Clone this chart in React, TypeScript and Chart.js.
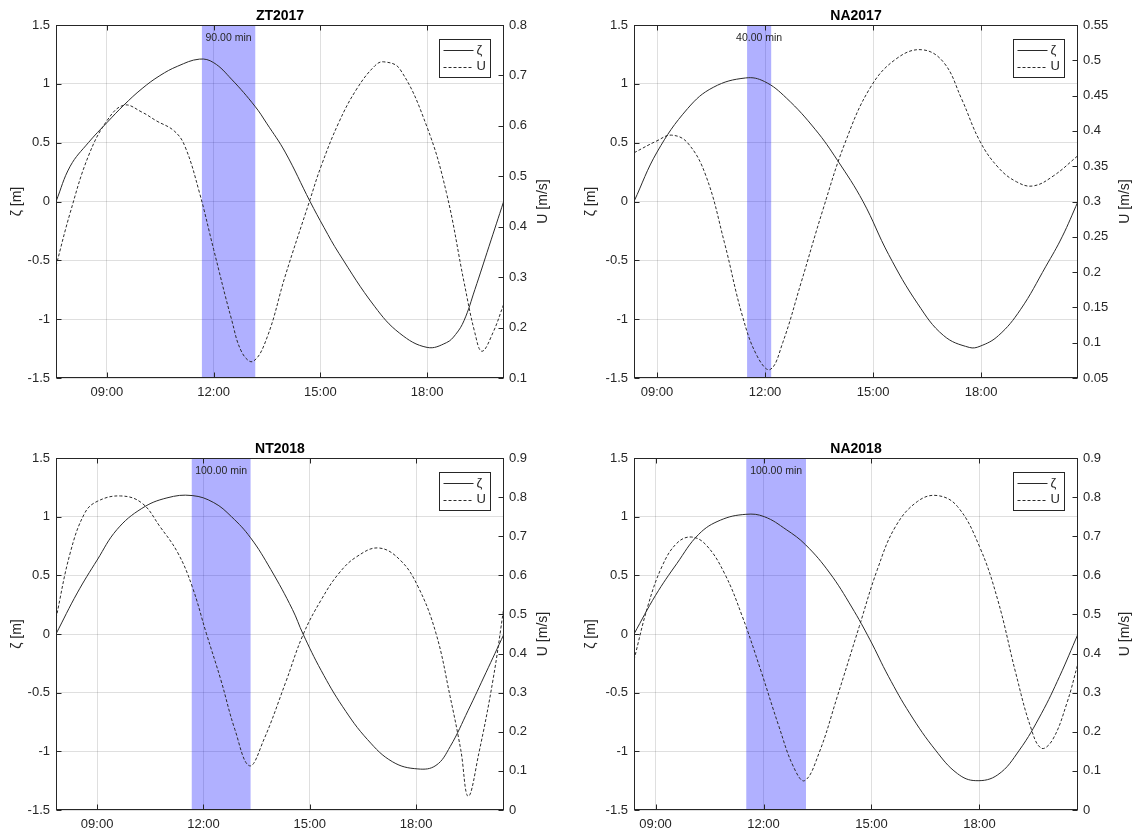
import React, { useEffect, useRef } from "react";
import { Chart, registerables } from "chart.js";

Chart.register(...registerables);

// ---------- shared ticks / labels ----------
const timeTicks = [9, 12, 15, 18];
const zetaAxis = [-1.5, 1.5, 0.5];
const panelTitles = ["ZT2017", "NA2017", "NT2018", "NA2018"];

// ---------- ZT2017 ----------
const zt17Range = [7.57, 20.16];
const zt17Window = [11.67, 13.17];
const zt17WindowLabel = "90.00 min";
const zt17UAxis = [0.1, 0.8, 0.1];
const zt17ZetaT = [7.57, 7.97, 8.48, 9.0, 9.48, 9.99, 10.49, 10.99, 11.6, 12.0, 12.5, 13.16, 13.5, 14.01, 14.71, 15.1, 15.52, 16.52, 17.23, 18.0, 18.54, 18.8, 19.04, 19.34, 19.74, 20.15];
const zt17Zeta = [0.0, 0.3, 0.5, 0.67, 0.82, 0.96, 1.07, 1.15, 1.21, 1.18, 1.04, 0.81, 0.66, 0.42, 0.0, -0.22, -0.44, -0.89, -1.12, -1.24, -1.2, -1.13, -1.01, -0.75, -0.38, 0.0];
const zt17UT = [7.57, 7.97, 8.48, 9.0, 9.48, 9.99, 10.39, 10.89, 11.19, 11.6, 12.0, 12.5, 12.8, 13.11, 13.51, 14.01, 14.71, 15.02, 15.52, 16.02, 16.53, 16.78, 17.23, 18.0, 18.54, 19.04, 19.34, 19.54, 19.85, 20.15];
const zt17U = [0.322, 0.428, 0.54, 0.61, 0.641, 0.627, 0.61, 0.59, 0.56, 0.468, 0.355, 0.217, 0.15, 0.133, 0.182, 0.302, 0.454, 0.52, 0.607, 0.673, 0.719, 0.727, 0.713, 0.597, 0.468, 0.289, 0.19, 0.153, 0.19, 0.246];

// ---------- NA2017 ----------
const na17Range = [8.36, 20.69];
const na17Window = [11.5, 12.17];
const na17WindowLabel = "40.00 min";
const na17UAxis = [0.05, 0.55, 0.05];
const na17ZetaT = [8.36, 9.0, 9.85, 10.56, 11.46, 11.98, 12.59, 13.4, 14.01, 14.72, 15.43, 16.24, 16.96, 17.67, 17.97, 18.48, 19.09, 19.8, 20.25, 20.69];
const na17Zeta = [0.0, 0.42, 0.79, 0.97, 1.05, 1.02, 0.88, 0.61, 0.35, 0.0, -0.45, -0.87, -1.14, -1.24, -1.23, -1.14, -0.92, -0.55, -0.3, 0.0];
const na17UT = [8.36, 9.0, 9.4, 9.85, 10.36, 10.87, 11.37, 11.78, 12.14, 12.49, 13.0, 13.61, 14.22, 14.93, 15.64, 16.35, 16.96, 17.46, 17.97, 18.48, 18.98, 19.44, 20.0, 20.69];
const na17U = [0.369, 0.386, 0.394, 0.383, 0.336, 0.242, 0.138, 0.081, 0.062, 0.1, 0.185, 0.289, 0.383, 0.462, 0.502, 0.515, 0.497, 0.445, 0.385, 0.348, 0.328, 0.322, 0.336, 0.365];

// ---------- NT2018 ----------
const nt18Range = [7.84, 20.48];
const nt18Window = [11.67, 13.33];
const nt18WindowLabel = "100.00 min";
const nt18UAxis = [0, 0.9, 0.1];
const nt18ZetaT = [7.84, 8.44, 9.0, 9.56, 10.26, 10.97, 11.68, 12.29, 12.79, 13.33, 13.9, 14.51, 14.81, 15.32, 15.93, 16.63, 17.34, 18.05, 18.56, 18.96, 19.47, 19.97, 20.48];
const nt18Zeta = [0.0, 0.35, 0.63, 0.89, 1.07, 1.16, 1.18, 1.12, 1.0, 0.82, 0.55, 0.21, 0.0, -0.31, -0.62, -0.9, -1.09, -1.15, -1.12, -0.96, -0.65, -0.33, 0.0];
const nt18UT = [7.84, 8.24, 8.65, 9.0, 9.66, 10.26, 10.77, 11.28, 11.68, 12.08, 12.49, 12.89, 13.3, 13.7, 14.31, 14.81, 15.32, 15.83, 16.33, 16.94, 17.54, 18.05, 18.56, 18.96, 19.26, 19.47, 19.77, 20.17, 20.48];
const nt18U = [0.49, 0.657, 0.759, 0.789, 0.803, 0.785, 0.725, 0.657, 0.572, 0.452, 0.333, 0.205, 0.113, 0.179, 0.324, 0.448, 0.537, 0.606, 0.648, 0.67, 0.64, 0.572, 0.452, 0.29, 0.154, 0.035, 0.145, 0.333, 0.52];

// ---------- NA2018 ----------
const na18Range = [8.4, 20.74];
const na18Window = [11.52, 13.18];
const na18WindowLabel = "100.00 min";
const na18UAxis = [0, 0.9, 0.1];
const na18ZetaT = [8.4, 9.0, 9.59, 10.2, 10.8, 11.51, 12.02, 12.63, 13.17, 13.84, 14.45, 14.96, 15.47, 16.07, 16.78, 17.39, 17.9, 18.51, 19.11, 19.72, 20.23, 20.74];
const na18Zeta = [0.0, 0.33, 0.6, 0.85, 0.97, 1.02, 1.0, 0.89, 0.76, 0.52, 0.23, -0.05, -0.36, -0.68, -0.99, -1.19, -1.25, -1.2, -0.99, -0.68, -0.36, 0.0];
const na18UT = [8.4, 8.78, 9.18, 9.59, 9.99, 10.4, 10.91, 11.41, 11.92, 12.43, 12.83, 13.14, 13.54, 14.05, 14.66, 15.16, 15.67, 16.28, 16.83, 17.39, 18.0, 18.51, 19.01, 19.42, 19.72, 20.03, 20.43, 20.74];
const na18U = [0.384, 0.52, 0.623, 0.682, 0.698, 0.678, 0.606, 0.495, 0.358, 0.213, 0.111, 0.075, 0.145, 0.29, 0.469, 0.614, 0.725, 0.789, 0.804, 0.776, 0.674, 0.537, 0.35, 0.213, 0.158, 0.179, 0.273, 0.375];

// ---------- styling / layout (not data) ----------
const FONT = "'Liberation Sans', Arial, Helvetica, sans-serif";
const AXIS_COLOR = "#262626";
const GRID_COLOR = "rgba(38,38,38,0.15)";
const LINE_COLOR = "#2a2a2a";

type Geo = {
  left: number; top: number; w: number; h: number;
  area: { left: number; right: number; top: number; bottom: number };
  yTitleX: number; uTitleX: number;
};

const layouts: Geo[] = [
  { left: 0, top: 0, w: 566, h: 417, area: { left: 56, right: 504, top: 25, bottom: 378 }, yTitleX: 17, uTitleX: 543 },
  { left: 566, top: 0, w: 567, h: 417, area: { left: 68, right: 512, top: 25, bottom: 378 }, yTitleX: 25, uTitleX: 559 },
  { left: 0, top: 417, w: 566, h: 417, area: { left: 56, right: 504, top: 41, bottom: 393 }, yTitleX: 17, uTitleX: 543 },
  { left: 566, top: 417, w: 567, h: 417, area: { left: 68, right: 512, top: 41, bottom: 393 }, yTitleX: 25, uTitleX: 559 },
];

const panels = [
  { title: panelTitles[0], range: zt17Range, win: zt17Window, winLabel: zt17WindowLabel, uAxis: zt17UAxis, zetaT: zt17ZetaT, zeta: zt17Zeta, uT: zt17UT, u: zt17U },
  { title: panelTitles[1], range: na17Range, win: na17Window, winLabel: na17WindowLabel, uAxis: na17UAxis, zetaT: na17ZetaT, zeta: na17Zeta, uT: na17UT, u: na17U },
  { title: panelTitles[2], range: nt18Range, win: nt18Window, winLabel: nt18WindowLabel, uAxis: nt18UAxis, zetaT: nt18ZetaT, zeta: nt18Zeta, uT: nt18UT, u: nt18U },
  { title: panelTitles[3], range: na18Range, win: na18Window, winLabel: na18WindowLabel, uAxis: na18UAxis, zetaT: na18ZetaT, zeta: na18Zeta, uT: na18UT, u: na18U },
];

const fmtNum = (v: number) => String(Math.round(v * 1000) / 1000);

const decorPlugin = {
  id: "decor",
  beforeDatasetsDraw(chart: any, _args: any, opts: any) {
    const { ctx, chartArea: ca, scales } = chart;
    const x0 = scales.x.getPixelForValue(opts.win[0]);
    const x1 = scales.x.getPixelForValue(opts.win[1]);
    ctx.save();
    ctx.fillStyle = "rgba(0,0,255,0.31)";
    ctx.fillRect(x0, ca.top, x1 - x0, ca.bottom - ca.top);
    ctx.restore();
  },
  afterDraw(chart: any, _args: any, opts: any) {
    const { ctx, chartArea: ca, scales } = chart;
    const L = Math.round(ca.left) + 0.5;
    const R = Math.round(ca.right) - 0.5;
    const T = Math.round(ca.top) + 0.5;
    const B = Math.round(ca.bottom) - 0.5;
    ctx.save();
    // window label
    const x0 = scales.x.getPixelForValue(opts.win[0]);
    const x1 = scales.x.getPixelForValue(opts.win[1]);
    ctx.fillStyle = AXIS_COLOR;
    ctx.font = `10.5px ${FONT}`;
    ctx.textAlign = "center";
    ctx.textBaseline = "middle";
    ctx.fillText(opts.winLabel, (x0 + x1) / 2, ca.top + 13.5);

    // box
    ctx.strokeStyle = AXIS_COLOR;
    ctx.lineWidth = 1;
    ctx.strokeRect(L, T, R - L, B - T);

    // inward tick marks
    const TL = 5;
    ctx.beginPath();
    for (const t of scales.x.ticks) {
      const px = Math.round(scales.x.getPixelForValue(t.value)) + 0.5;
      ctx.moveTo(px, B); ctx.lineTo(px, B - TL);
      ctx.moveTo(px, T); ctx.lineTo(px, T + TL);
    }
    for (const t of scales.y.ticks) {
      const py = Math.round(scales.y.getPixelForValue(t.value)) + 0.5;
      ctx.moveTo(L, py); ctx.lineTo(L + TL, py);
    }
    for (const t of scales.u.ticks) {
      const py = Math.round(scales.u.getPixelForValue(t.value)) + 0.5;
      ctx.moveTo(R, py); ctx.lineTo(R - TL, py);
    }
    ctx.stroke();

    // legend
    const lw = 51, lh = 38;
    const lx = Math.round(ca.right - 14 - lw) + 0.5;
    const ly = Math.round(ca.top + 14) + 0.5;
    ctx.fillStyle = "#ffffff";
    ctx.fillRect(lx, ly, lw, lh);
    ctx.strokeStyle = AXIS_COLOR;
    ctx.strokeRect(lx, ly, lw, lh);
    const rows = [
      { y: ly + 10.5, dash: [] as number[], text: chart.data.datasets[0].label },
      { y: ly + 27, dash: [3, 2], text: chart.data.datasets[1].label },
    ];
    ctx.font = `13px ${FONT}`;
    ctx.textAlign = "left";
    ctx.textBaseline = "middle";
    for (const r of rows) {
      ctx.beginPath();
      ctx.setLineDash(r.dash);
      ctx.strokeStyle = LINE_COLOR;
      ctx.moveTo(lx + 4, Math.round(r.y) + 0.5);
      ctx.lineTo(lx + 34, Math.round(r.y) + 0.5);
      ctx.stroke();
      ctx.setLineDash([]);
      ctx.fillStyle = AXIS_COLOR;
      ctx.fillText(r.text, lx + 37, r.y);
    }

    // right axis title (reads bottom to top)
    ctx.translate(opts.uTitleX, (ca.top + ca.bottom) / 2);
    ctx.rotate(-Math.PI / 2);
    ctx.font = `14px ${FONT}`;
    ctx.fillStyle = AXIS_COLOR;
    ctx.textAlign = "center";
    ctx.textBaseline = "middle";
    ctx.fillText(opts.uTitle, 0, 0);
    ctx.restore();
  },
};

function buildChart(canvas: HTMLCanvasElement, p: any, g: Geo) {
  const tickFont = { family: FONT, size: 13 };
  return new Chart(canvas, {
    type: "line",
    data: {
      datasets: [
        {
          label: "ζ",
          data: p.zetaT.map((t: number, i: number) => ({ x: t, y: p.zeta[i] })),
          yAxisID: "y",
          borderColor: LINE_COLOR,
          borderWidth: 1,
          pointRadius: 0,
          tension: 0.4,
          fill: false,
        },
        {
          label: "U",
          data: p.uT.map((t: number, i: number) => ({ x: t, y: p.u[i] })),
          yAxisID: "u",
          borderColor: LINE_COLOR,
          borderWidth: 1,
          borderDash: [3, 2],
          pointRadius: 0,
          tension: 0.4,
          fill: false,
        },
      ],
    },
    options: {
      animation: false,
      responsive: false,
      devicePixelRatio: 1,
      layout: { padding: { top: g.area.top - 16.8, left: 0, right: 0, bottom: 0 } },
      plugins: {
        legend: { display: false },
        tooltip: { enabled: false },
        title: {
          display: true,
          text: p.title,
          fullSize: false,
          padding: 0,
          color: "#000000",
          font: { family: FONT, size: 14, weight: "bold" },
        },
        decor: { win: p.win, winLabel: p.winLabel, uTitleX: g.uTitleX, uTitle: "U [m/s]" },
      } as any,
      scales: {
        x: {
          type: "linear",
          min: p.range[0],
          max: p.range[1],
          afterBuildTicks: (s: any) => {
            s.ticks = timeTicks.map((v) => ({ value: v }));
          },
          ticks: {
            callback: (v: any) => `${String(v).padStart(2, "0")}:00`,
            font: tickFont,
            color: AXIS_COLOR,
            padding: 7,
            maxRotation: 0,
            autoSkip: false,
          },
          grid: { color: GRID_COLOR, drawTicks: false },
          border: { display: false },
          afterFit: (s: any) => {
            s.height = g.h - g.area.bottom;
          },
        },
        y: {
          type: "linear",
          position: "left",
          min: zetaAxis[0],
          max: zetaAxis[1],
          ticks: {
            stepSize: zetaAxis[2],
            callback: (v: any) => fmtNum(Number(v)),
            font: tickFont,
            color: AXIS_COLOR,
            padding: 6,
          },
          title: {
            display: true,
            text: "ζ [m]",
            color: AXIS_COLOR,
            font: { family: FONT, size: 14 },
            padding: { top: g.yTitleX - 8.4, bottom: 0 },
          },
          grid: { color: GRID_COLOR, drawTicks: false },
          border: { display: false },
          afterFit: (s: any) => {
            s.width = g.area.left;
          },
        },
        u: {
          type: "linear",
          position: "right",
          min: p.uAxis[0],
          max: p.uAxis[1],
          ticks: {
            stepSize: p.uAxis[2],
            callback: (v: any) => fmtNum(Number(v)),
            font: tickFont,
            color: AXIS_COLOR,
            padding: 5,
          },
          grid: { display: false, drawTicks: false },
          border: { display: false },
          afterFit: (s: any) => {
            s.width = g.w - g.area.right;
          },
        },
      },
    } as any,
    plugins: [decorPlugin as any],
  });
}

function Panel({ p, g }: { p: any; g: Geo }) {
  const ref = useRef<HTMLCanvasElement>(null);
  useEffect(() => {
    const chart = buildChart(ref.current as HTMLCanvasElement, p, g);
    return () => chart.destroy();
  }, []);
  return (
    <canvas
      ref={ref}
      width={g.w}
      height={g.h}
      style={{ position: "absolute", left: g.left, top: g.top, width: g.w, height: g.h }}
    />
  );
}

export default function App() {
  return (
    <div style={{ position: "absolute", left: 0, top: 0, width: 1133, height: 834, background: "#ffffff" }}>
      {panels.map((p, i) => (
        <Panel key={p.title} p={p} g={layouts[i]} />
      ))}
    </div>
  );
}
